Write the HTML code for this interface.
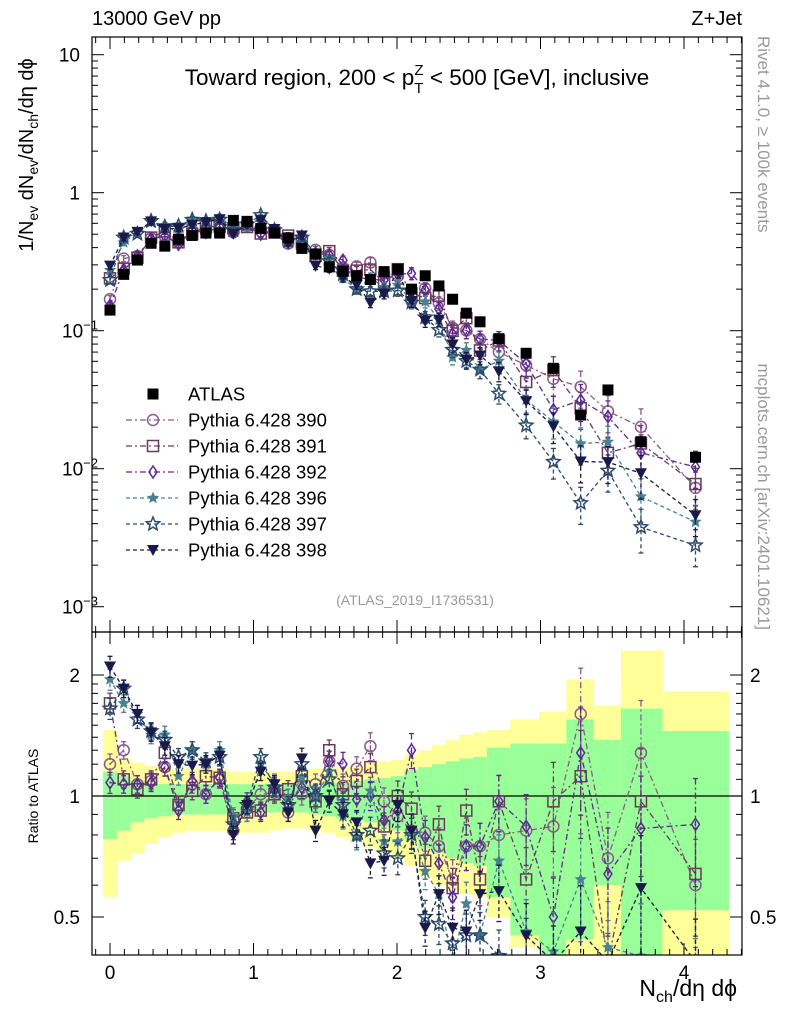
<!DOCTYPE html>
<html><head><meta charset="utf-8"><style>
html,body{margin:0;padding:0;background:#fff;overflow:hidden;width:786px;height:1024px}
svg{display:block}
svg text{font-family:"Liberation Sans",sans-serif}
</style></head><body>
<svg id="c" width="786" height="1024" viewBox="0 0 786 1024" xmlns="http://www.w3.org/2000/svg">
<defs>
<clipPath id="cm"><rect x="92" y="37" width="650" height="595"/></clipPath>
<clipPath id="cr"><rect x="92" y="632" width="650" height="323"/></clipPath>
</defs>
<g id="bands" clip-path="url(#cr)"></g>
<g id="marks"></g>
<rect x="92" y="37" width="650" height="595" fill="none" stroke="#000" stroke-width="1.2"/>
<rect x="92" y="632" width="650" height="323" fill="none" stroke="#000" stroke-width="1.2"/>
<g id="axes"></g>
<text x="92" y="25" font-size="20">13000 GeV pp</text>
<text x="742" y="25" font-size="20" text-anchor="end">Z+Jet</text>
<text x="417" y="85" font-size="22.5" text-anchor="middle">Toward region, 200 &lt; p<tspan font-size="15" dy="8">T</tspan><tspan font-size="15" dx="-9" dy="-18">Z</tspan><tspan dy="10"> &lt; 500 [GeV], inclusive</tspan></text>
<text x="415" y="605" font-size="14" fill="#999" text-anchor="middle">(ATLAS_2019_I1736531)</text>
<text transform="translate(33,155) rotate(-90)" font-size="20" text-anchor="middle">1/N<tspan font-size="14" dy="5">ev</tspan><tspan dy="-5"> dN</tspan><tspan font-size="14" dy="5">ev</tspan><tspan dy="-5">/dN</tspan><tspan font-size="14" dy="5">ch</tspan><tspan dy="-5">/dη dϕ</tspan></text>
<text transform="translate(38,796) rotate(-90)" font-size="14" text-anchor="middle">Ratio to ATLAS</text>
<text x="737" y="996" font-size="23" text-anchor="end">N<tspan font-size="16" dy="6">ch</tspan><tspan dy="-6">/dη dϕ</tspan></text>
<text transform="translate(758,36) rotate(90)" font-size="17" fill="#999">Rivet 4.1.0, ≥ 100k events</text>
<text transform="translate(758,630) rotate(90)" font-size="17" fill="#999" text-anchor="end">mcplots.cern.ch [arXiv:2401.10621]</text>
<g id="legend"></g>
</svg>
<script>
const xc=[0,0.0955,0.191,0.2865,0.382,0.4775,0.573,0.6685,0.764,0.8595,0.955,1.0505,1.146,1.2415,1.337,1.4325,1.528,1.6235,1.719,1.8145,1.91,2.0055,2.101,2.1965,2.292,2.3875,2.483,2.5785,2.71,2.90,3.09,3.28,3.47,3.70,4.08];
const xlo=[-0.048,0.048,0.143,0.239,0.334,0.430,0.525,0.621,0.716,0.812,0.907,1.003,1.098,1.194,1.289,1.385,1.480,1.576,1.671,1.767,1.862,1.958,2.053,2.149,2.244,2.340,2.435,2.531,2.626,2.79,2.99,3.18,3.37,3.56,3.85];
const xhi=[0.048,0.143,0.239,0.334,0.430,0.525,0.621,0.716,0.812,0.907,1.003,1.098,1.194,1.289,1.385,1.480,1.576,1.671,1.767,1.862,1.958,2.053,2.149,2.244,2.340,2.435,2.531,2.626,2.79,2.99,3.18,3.37,3.56,3.85,4.31];
const atlas=[0.141,0.256,0.325,0.43,0.41,0.46,0.49,0.51,0.51,0.63,0.62,0.55,0.51,0.47,0.395,0.36,0.29,0.27,0.25,0.235,0.268,0.279,0.20,0.25,0.211,0.169,0.134,0.116,0.0875,0.0686,0.0534,0.0245,0.0372,0.0157,0.0121];
const r390=[1.2,1.3,1.07,1.09,1.18,0.95,1.07,1.01,1.10,0.82,0.93,1.01,1.02,0.91,1.01,1.07,1.22,1.06,1.17,1.33,0.97,0.89,0.82,0.81,0.75,0.62,0.75,0.75,0.80,0.82,0.84,1.60,0.70,1.28,0.60];
const r391=[1.7,1.10,1.04,1.10,1.28,0.95,1.03,1.12,1.11,0.88,0.91,0.92,1.01,1.04,1.12,0.97,1.30,1.01,1.09,1.18,0.84,1.0,0.93,0.69,0.85,0.59,0.92,0.62,0.97,0.62,0.97,1.12,0.35,0.97,0.64];
const r392=[1.08,1.07,1.07,1.08,1.18,0.92,1.09,1.01,1.11,0.82,0.97,0.91,1.06,0.95,1.05,1.01,1.22,1.20,0.98,1.0,0.87,0.92,1.30,0.79,0.68,0.56,0.75,0.75,0.97,0.84,0.50,1.28,0.64,0.83,0.85];
const r396=[1.95,1.7,1.6,1.42,1.42,1.12,1.30,1.20,1.30,0.89,0.91,1.20,1.08,0.99,1.11,0.99,1.15,0.89,0.79,1.03,0.77,0.77,0.82,0.65,0.57,0.38,0.54,0.45,0.69,0.46,0.41,0.62,0.42,0.40,0.34];
const r397=[1.65,1.85,1.55,1.45,1.38,1.25,1.30,1.22,1.25,0.85,0.95,1.25,1.05,0.95,1.20,1.0,1.10,0.95,0.80,0.82,0.72,0.70,0.80,0.50,0.48,0.43,0.45,0.45,0.40,0.30,0.21,0.23,0.26,0.24,0.23];
const r398=[2.1,1.85,1.6,1.44,1.33,1.2,1.19,1.20,1.26,0.80,0.95,1.15,1.07,0.91,1.24,0.82,0.97,0.90,0.86,0.68,0.69,0.95,0.82,0.47,0.57,0.47,0.46,0.57,0.58,0.45,0.38,0.46,0.30,0.59,0.38];
const errRel=[0.06,0.05,0.05,0.05,0.05,0.05,0.05,0.05,0.05,0.05,0.05,0.05,0.05,0.05,0.06,0.06,0.06,0.07,0.07,0.08,0.08,0.09,0.1,0.1,0.11,0.12,0.13,0.14,0.16,0.2,0.25,0.3,0.3,0.35,0.3];
const yu=[1.46,1.24,1.21,1.19,1.18,1.17,1.17,1.17,1.17,1.15,1.15,1.15,1.15,1.15,1.16,1.17,1.17,1.18,1.19,1.21,1.22,1.23,1.27,1.3,1.34,1.38,1.42,1.44,1.46,1.55,1.62,1.95,1.68,2.3,1.82];
const yd=[0.56,0.69,0.72,0.76,0.79,0.81,0.82,0.82,0.82,0.81,0.81,0.81,0.82,0.83,0.83,0.82,0.81,0.79,0.77,0.74,0.72,0.70,0.67,0.63,0.60,0.58,0.57,0.56,0.50,0.42,0.38,0.38,0.38,0.38,0.38];
const gu=[1.15,1.12,1.09,1.08,1.07,1.07,1.07,1.07,1.07,1.07,1.07,1.07,1.07,1.07,1.07,1.07,1.08,1.08,1.09,1.10,1.11,1.12,1.16,1.18,1.2,1.22,1.24,1.25,1.32,1.35,1.35,1.55,1.38,1.65,1.45];
const gd=[0.78,0.82,0.86,0.88,0.89,0.90,0.90,0.90,0.90,0.91,0.91,0.91,0.91,0.91,0.91,0.90,0.89,0.88,0.87,0.86,0.84,0.82,0.78,0.74,0.72,0.70,0.68,0.67,0.56,0.45,0.38,0.44,0.60,0.38,0.52];
const xTicks=[0,1,2,3,4];
const ratioTicks=[0.5,1,2];

const NS="http://www.w3.org/2000/svg";
const clamp=(v,a,b)=>Math.max(a,Math.min(b,v));
const X=v=>110+v*143.5;
const Ym=v=>clamp(192.7-Math.log10(v)*138,30,640);
const Yr=r=>clamp(796-Math.log2(r)*121,625,962);
function mk(t,a,p){const e=document.createElementNS(NS,t);for(const k in a)e.setAttribute(k,a[k]);(p||document.getElementById('marks')).appendChild(e);return e;}

const bands=document.getElementById('bands');
for(let i=0;i<xc.length;i++){
  const y=mk('rect',{x:X(xlo[i]),y:Yr(yu[i]),width:X(xhi[i])-X(xlo[i])+0.5,height:Yr(yd[i])-Yr(yu[i]),fill:'#ffff99'},bands);
  
  
  const g=mk('rect',{x:X(xlo[i]),y:Yr(gu[i]),width:X(xhi[i])-X(xlo[i])+0.5,height:Yr(gd[i])-Yr(gu[i]),fill:'#99ff99'},bands);
  
  
}
mk('line',{x1:92,x2:742,y1:Yr(1),y2:Yr(1),stroke:'#000','stroke-width':1.2});

function star(cx,cy,R){let p=[];for(let i=0;i<10;i++){const r=i%2?R*0.45:R;const a=-Math.PI/2+i*Math.PI/5;p.push((cx+r*Math.cos(a)).toFixed(1)+','+(cy+r*Math.sin(a)).toFixed(1));}return p.join(' ');}
function marker(type,cx,cy,col,parent){
  let e;
  if(type==='atlas')e=mk('rect',{x:cx-5.5,y:cy-5.5,width:11,height:11,fill:'#000'},parent);
  else if(type==='circle')e=mk('circle',{cx:cx,cy:cy,r:5.5,fill:'none',stroke:col,'stroke-width':1.5},parent);
  else if(type==='square')e=mk('rect',{x:cx-5.5,y:cy-5.5,width:11,height:11,fill:'none',stroke:col,'stroke-width':1.5},parent);
  else if(type==='diamond')e=mk('polygon',{points:`${cx},${cy-6} ${cx+4},${cy} ${cx},${cy+6} ${cx-4},${cy}`,fill:'none',stroke:col,'stroke-width':1.5},parent);
  else if(type==='star')e=mk('polygon',{points:star(cx,cy,6.5),fill:col},parent);
  else if(type==='bigstar')e=mk('polygon',{points:star(cx,cy,7),fill:'none',stroke:col,'stroke-width':1.5},parent);
  else if(type==='tri')e=mk('polygon',{points:`${cx-6},${cy-5} ${cx+6},${cy-5} ${cx},${cy+6}`,fill:col},parent);
  return e;
}
const series=[
 {name:'Pythia 6.428 390',r:r390,type:'circle',col:'#8a5a8a',dash:'6,3,2,3'},
 {name:'Pythia 6.428 391',r:r391,type:'square',col:'#6a3a5a',dash:'6,3,2,3'},
 {name:'Pythia 6.428 392',r:r392,type:'diamond',col:'#5a2a90',dash:'6,3,2,3'},
 {name:'Pythia 6.428 396',r:r396,type:'star',col:'#4a8090',dash:'4,3'},
 {name:'Pythia 6.428 397',r:r397,type:'bigstar',col:'#2a4a6a',dash:'4,3'},
 {name:'Pythia 6.428 398',r:r398,type:'tri',col:'#1a1a4a',dash:'4,3'}
];
const gm=mk('g',{'clip-path':'url(#cm)'});
const gr=mk('g',{'clip-path':'url(#cr)'});
series.forEach((s,si)=>{
  const vals=atlas.map((a,i)=>a*s.r[i]);
  const pm=vals.map((v,i)=>X(xc[i]).toFixed(1)+','+Ym(v).toFixed(1)).join(' ');
  const l1=mk('polyline',{points:pm,fill:'none',stroke:s.col,'stroke-width':1.3,'stroke-dasharray':s.dash},gm);
  
  
  const pr=s.r.map((v,i)=>X(xc[i]).toFixed(1)+','+Yr(v).toFixed(1)).join(' ');
  const l2=mk('polyline',{points:pr,fill:'none',stroke:s.col,'stroke-width':1.3,'stroke-dasharray':s.dash},gr);
  
  
  vals.forEach((v,i)=>{
    const cx=X(xc[i]),e=errRel[i];
    [[gm,Ym(v*(1+e)),Ym(v*(1-e))],[gr,Yr(s.r[i]*(1+e)),Yr(s.r[i]*(1-e))]].forEach(([g,y1,y2])=>{
      const b=mk('line',{x1:cx,x2:cx,y1:y1,y2:y2,stroke:s.col,'stroke-width':1.3,'stroke-dasharray':s.dash},g);
      
      
      mk('line',{x1:cx-2.5,x2:cx+2.5,y1:y1,y2:y1,stroke:s.col,'stroke-width':1.3},g);
      mk('line',{x1:cx-2.5,x2:cx+2.5,y1:y2,y2:y2,stroke:s.col,'stroke-width':1.3},g);
    });
    const m1=marker(s.type,cx,Ym(v),s.col,gm);
    
    
    const m2=marker(s.type,cx,Yr(s.r[i]),s.col,gr);
    
    
  });
});
atlas.forEach((a,i)=>{
  const m=marker('atlas',X(xc[i]),Ym(a),'#000',gm);
  
  
});

const lg=document.getElementById('legend');
const le=[{name:'ATLAS',type:'atlas',col:'#000'}].concat(series);
le.forEach((s,i)=>{
  const y=394+i*26;
  if(s.dash){const l=mk('line',{x1:126,x2:178,y1:y,y2:y,stroke:s.col,'stroke-width':1.3,'stroke-dasharray':s.dash},lg);
    
    }
  const m=marker(s.type,153,y,s.col,lg);
  
  
  const t=mk('text',{x:188,y:y+6.5,'font-size':18.5},lg);t.textContent=s.name;
  
  
});

const ax=document.getElementById('axes');
function tk(x1,y1,x2,y2){mk('line',{x1,y1,x2,y2,stroke:'#000','stroke-width':1},ax);}
for(let v=-0.1;v<=4.41;v+=0.1){const r=Math.round(v*10)/10;const x=X(r);if(x<92||x>742)continue;
  const L=Math.abs(r-Math.round(r))<1e-6?12:6;
  tk(x,37,x,37+L);tk(x,632,x,632-L);tk(x,632,x,632+L);tk(x,955,x,955-L);}
xTicks.forEach(v=>{const t=mk('text',{x:X(v),y:979,'font-size':19,'text-anchor':'middle'},ax);t.textContent=v;
  
  });
for(let d=-3;d<=1;d++){for(let m=1;m<10;m++){const v=m*Math.pow(10,d);const y=192.7-Math.log10(v)*138;if(y<37||y>632)continue;const L=m===1?12:6;tk(92,y,92+L,y);tk(742,y,742-L,y);}}
const ylab=[[10,'10'],[1,'1'],[0.1,'10<tspan font-size="13" dy="-8">−1</tspan>'],[0.01,'10<tspan font-size="13" dy="-8">−2</tspan>'],[0.001,'10<tspan font-size="13" dy="-8">−3</tspan>']];
ylab.forEach(([v,s])=>{const t=mk('text',{x:v>=1?80:62,y:Ym(v)+7,'font-size':19,'text-anchor':v>=1?'end':'start'},ax);t.innerHTML=s;
  
  });
[0.4,0.5,0.6,0.7,0.8,0.9,1,1.1,1.2,1.3,1.4,1.5,1.6,1.7,1.8,1.9,2].forEach(v=>{const y=796-Math.log2(v)*121;if(y<632||y>955)return;const L=(v===0.5||v===1||v===2)?12:6;tk(92,y,92+L,y);tk(742,y,742-L,y);});
ratioTicks.forEach(v=>{
  const t=mk('text',{x:80,y:Yr(v)+7,'font-size':19,'text-anchor':'end'},ax);t.textContent=v;
  
  
  const t2=mk('text',{x:750,y:Yr(v)+7,'font-size':19},ax);t2.textContent=v;
  
  
});
</script>
</body></html>
